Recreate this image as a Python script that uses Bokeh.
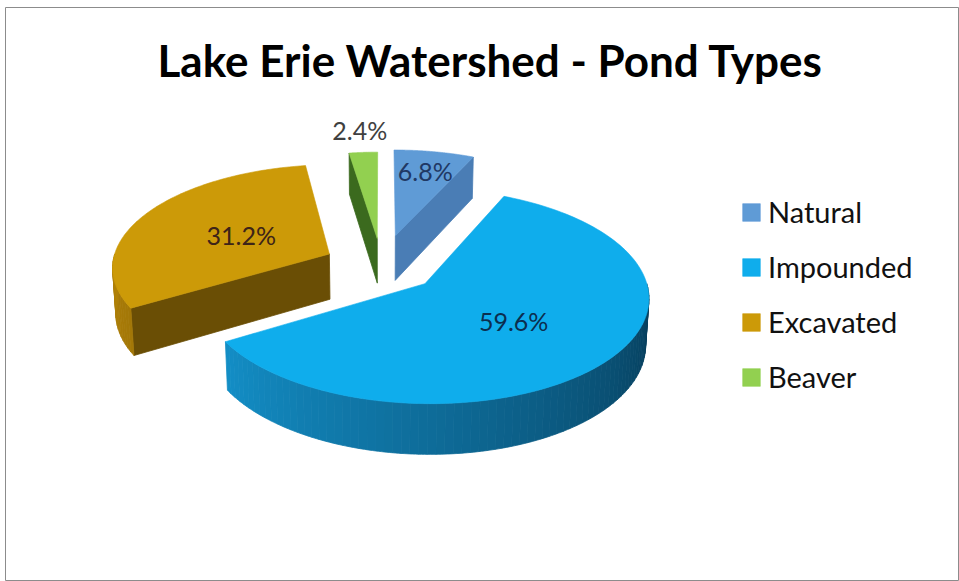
import numpy as np
from bokeh.plotting import figure
from bokeh.models import Range1d, Legend, LegendItem, Label, ColumnDataSource
from bokeh.embed import file_html
from bokeh.resources import INLINE
from bokeh.core.properties import value

# ---------------- data ----------------
title_text = "Lake Erie Watershed - Pond Types"
categories = ["Natural", "Impounded", "Excavated", "Beaver"]
percent = [6.8, 59.6, 31.2, 2.4]

# ---------------- style ----------------
top_colors = ["#5f9bd6", "#0fadec", "#cc9a08", "#92d050"]
face_colors = ["#4a7db5", "#0a7fb6", "#6a4e05", "#3b6a1e"]
wall_light = [(80, 140, 200), (22, 160, 222), (178, 130, 8), (120, 180, 60)]
wall_dark = [(40, 80, 120), (6, 56, 84), (90, 65, 4), (60, 100, 30)]
label_colors = ["#1f3864", "#0b2e4f", "#3d2418", "#404040"]
explode = [0.308, 0.262, 0.269, 0.274]
label_radius = [0.75, 0.505, 0.47, 1.3]

# ---------------- 3-D camera ----------------
W, HGT = 959, 581
ELEV = np.radians(26.6)
SE, CE = np.sin(ELEV), np.cos(ELEV)
DIST = 7.97
FOC = 1883.7
ASPECT = 0.909
CX, CY = 381.1, 310.7
THICK = 0.2135


def proj(X, Y, Z):
    X = np.asarray(X, float)
    Y = np.asarray(Y, float)
    Z = np.asarray(Z, float) + 0 * X
    v = Y * SE + Z * CE
    w = Y * CE - Z * SE
    k = FOC / (DIST + w)
    return CX + ASPECT * k * X, CY - k * v


def arc(a0, a1, n):
    a = np.radians(np.linspace(a0, a1, n))
    return np.sin(a), np.cos(a)


def hexcol(c):
    return "#%02x%02x%02x" % tuple(int(round(max(0, min(255, v)))) for v in c)


p = figure(width=W, height=HGT, x_range=Range1d(5, W), y_range=Range1d(HGT, 7),
           output_backend="svg", toolbar_location=None,
           min_border_left=5, min_border_top=7, min_border_right=0, min_border_bottom=0,
           x_axis_location=None, y_axis_location=None)
p.grid.grid_line_color = None
p.outline_line_color = "#8c8c8c"
p.outline_line_width = 1
p.background_fill_color = "white"
p.border_fill_color = "white"

total = float(sum(percent))
ends = np.cumsum(percent) / total * 360.0
starts = ends - np.array(percent) / total * 360.0

offs = []
for i in range(len(categories)):
    bis = np.radians((starts[i] + ends[i]) / 2)
    offs.append((explode[i] * np.sin(bis), explode[i] * np.cos(bis)))

order = sorted(range(len(categories)), key=lambda i: -offs[i][1])
top_renderers = {}
for i in order:
    a0, a1 = starts[i], ends[i]
    ox, oy = offs[i]
    side_xs, side_ys, side_cols = [], [], []
    # radial (cut) faces that look towards the viewer
    for ang, sign in ((a0, -1), (a1, 1)):
        nrm = np.radians(ang + sign * 90)
        if np.cos(nrm) < -1e-6:
            r = np.radians(ang)
            X = [ox, ox + np.sin(r), ox + np.sin(r), ox]
            Y = [oy, oy + np.cos(r), oy + np.cos(r), oy]
            Z = [THICK, THICK, 0, 0]
            xs, ys = proj(X, Y, Z)
            side_xs.append(list(xs)); side_ys.append(list(ys)); side_cols.append(face_colors[i])
    # curved outer wall (front half only)
    b0, b1 = max(a0, 90.0), min(a1, 270.0)
    if b1 > b0:
        nseg = max(2, int((b1 - b0) / 2))
        edges = np.linspace(b0, b1, nseg + 1)
        for s0, s1 in zip(edges[:-1], edges[1:]):
            sx, sy = arc(s0, s1, 4)
            X = np.concatenate([ox + sx, ox + sx[::-1]])
            Y = np.concatenate([oy + sy, oy + sy[::-1]])
            Z = np.concatenate([np.full(4, THICK), np.zeros(4)])
            xs, ys = proj(X, Y, Z)
            t = (270.0 - (s0 + s1) / 2) / 180.0
            c = [wall_light[i][j] + (wall_dark[i][j] - wall_light[i][j]) * t for j in range(3)]
            side_xs.append(list(xs)); side_ys.append(list(ys)); side_cols.append(hexcol(c))
    if side_xs:
        src = ColumnDataSource(dict(xs=side_xs, ys=side_ys, c=side_cols))
        p.patches("xs", "ys", source=src, fill_color="c", line_color="c", line_width=0.8)
    # top face
    sx, sy = arc(a0, a1, 140)
    X = np.concatenate([[ox], ox + sx])
    Y = np.concatenate([[oy], oy + sy])
    xs, ys = proj(X, Y, np.full(len(X), THICK))
    top_renderers[i] = p.patch(list(xs), list(ys), fill_color=top_colors[i],
                               line_color=top_colors[i], line_width=0.6)

# data labels
lx, ly, lt = [], [], []
for i in range(len(categories)):
    bis = np.radians((starts[i] + ends[i]) / 2)
    ox, oy = offs[i]
    X = ox + label_radius[i] * np.sin(bis)
    Y = oy + label_radius[i] * np.cos(bis)
    x, y = proj([X], [Y], [THICK])
    lx.append(float(x[0])); ly.append(float(y[0])); lt.append("%.1f%%" % percent[i])
p.text(x="x", y="y", text="t", source=ColumnDataSource(dict(x=lx, y=ly, t=lt, c=label_colors)),
       text_color="c", text_font=value("Lato"), text_font_size="25px",
       text_align="center", text_baseline="middle")

# title
p.add_layout(Label(x=490, y=59, text=title_text, text_font="Lato", text_font_style="bold",
                   text_font_size="44px", text_align="center", text_baseline="alphabetic",
                   text_color="#000000"))

legend = Legend(items=[LegendItem(label=categories[i], renderers=[top_renderers[i]])
                       for i in range(len(categories))],
                location=(735, 187), glyph_width=22, glyph_height=22, label_standoff=6,
                label_height=18, label_text_font="Lato", label_text_font_size="29px",
                label_text_color="#111111", spacing=20, padding=0, margin=0,
                border_line_color=None, background_fill_alpha=0)
p.add_layout(legend)

open("out.html", "w").write(file_html(p, INLINE))
